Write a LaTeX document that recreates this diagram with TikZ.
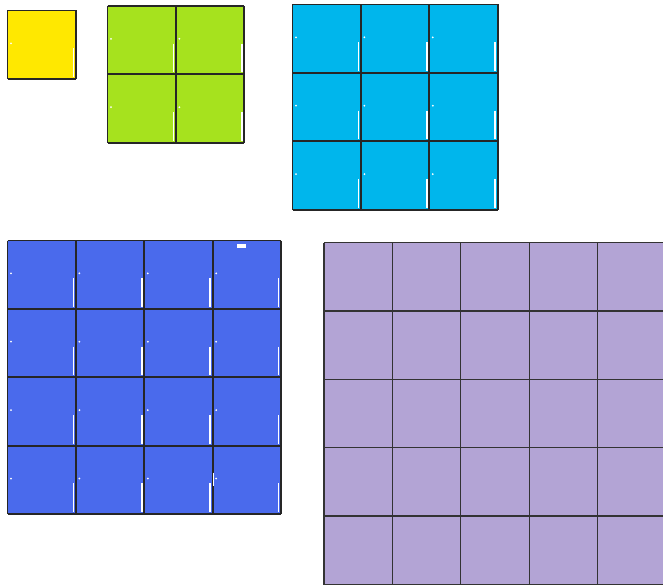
\documentclass[tikz,border=0pt]{standalone}
\definecolor{sqyellow}{RGB}{255,232,0}
\definecolor{sqgreen}{RGB}{166,226,30}
\definecolor{sqcyan}{RGB}{0,182,236}
\definecolor{sqblue}{RGB}{74,106,236}
\definecolor{sqpurple}{RGB}{179,164,213}
\tikzset{
  gridline/.style={draw=black!85, line width=1.8pt},
  thinline/.style={draw=black!80, line width=1.3pt},
  glint/.style={draw=white, line width=1.6pt}
}
\newcommand{\cellsize}{68.4}
\begin{document}
\begin{tikzpicture}[x=1pt,y=-1pt]
  \useasboundingbox (0,0) rectangle (663,585);
  % squares with 1, 2, 3 and 4 cells per side
  \foreach \ox/\oy/\n/\col in {7.5/10.5/1/sqyellow, 107.5/6/2/sqgreen, 292.5/4.5/3/sqcyan, 7.5/240.5/4/sqblue} {
    \fill[\col] (\ox,\oy) rectangle ++({\n*\cellsize},{\n*\cellsize});
    \foreach \i in {1,...,\n}
      \foreach \j in {1,...,\n} {
        \draw[glint] ({\ox+\i*\cellsize-2.5},{\oy+(\j-0.45)*\cellsize}) -- ++(0,{0.42*\cellsize});
        \fill[white] ({\ox+(\i-1)*\cellsize+3.5},{\oy+(\j-0.52)*\cellsize}) circle (1pt);
      }
    \foreach \k in {0,...,\n} {
      \draw[gridline] ({\ox+\k*\cellsize},\oy) -- ++(0,{\n*\cellsize});
      \draw[gridline] (\ox,{\oy+\k*\cellsize}) -- ++({\n*\cellsize},0);
    }
  }
  % extra marks in the blue square
  \fill[white] (237,244) rectangle (245.5,247.5);
  \draw[glint] (213.5,472.5) -- (213.5,486);
  % square with 5 cells per side
  \fill[sqpurple] (324,242.5) rectangle ++({5*\cellsize},{5*\cellsize});
  \foreach \k in {0,...,5} {
    \draw[thinline] ({324+\k*\cellsize},242.5) -- ++(0,{5*\cellsize});
    \draw[thinline] (324,{242.5+\k*\cellsize}) -- ++({5*\cellsize},0);
  }
\end{tikzpicture}
\end{document}
